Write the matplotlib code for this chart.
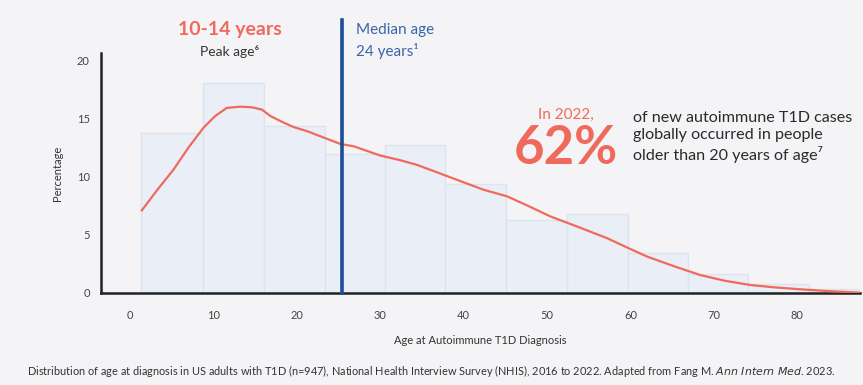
import numpy as np
import matplotlib.pyplot as plt

# histogram bins (age at diagnosis) and percentages
bin_edges = [1.3, 8.75, 16.1, 23.4, 30.6, 37.8, 45.1, 52.4, 59.7, 66.9, 74.1, 81.4, 88.7]
bin_pct = [13.7, 18.0, 14.3, 11.9, 12.7, 9.4, 6.3, 6.8, 3.4, 1.6, 0.75, 0.3]

# smoothed density curve
curve_age = [1.4, 3.3, 5.2, 7.0, 8.8, 10.2, 11.6, 13.2, 14.6, 15.8, 16.8, 18.2, 19.6, 21.2,
             23.2, 25.2, 26.8, 28.4, 30.0, 32.4, 34.4, 37.4, 40.0, 42.4, 45.2, 47.8, 50.4,
             53.8, 57.2, 59.6, 62.0, 65.2, 68.3, 71.3, 74.3, 77.3, 80.3, 84.0, 87.5]
curve_pct = [7.1, 8.9, 10.6, 12.5, 14.2, 15.2, 15.9, 16.0, 15.95, 15.75, 15.2, 14.7, 14.25, 13.9,
             13.35, 12.8, 12.6, 12.2, 11.8, 11.4, 11.0, 10.2, 9.5, 8.86, 8.3, 7.45, 6.57,
             5.65, 4.7, 3.9, 3.12, 2.3, 1.55, 1.05, 0.69, 0.48, 0.32, 0.15, 0.03]

median_age = 25.4
xticks = [0, 10, 20, 30, 40, 50, 60, 70, 80]
yticks = [0, 5, 10, 15, 20]

red = '#ef6a5c'
blue_line = '#1d4c9a'
blue_text = '#3b64aa'
bg = '#f4f4f6'

plt.rcParams['font.family'] = ['Lato', 'DejaVu Sans']

fig = plt.figure(figsize=(8.63, 3.85), dpi=100, facecolor=bg)
ax = fig.add_axes([0.117, 0.239, 0.8795, 0.623])
ax.set_facecolor(bg)

widths = np.diff(bin_edges)
ax.bar(bin_edges[:-1], bin_pct, width=widths, align='edge',
       color='#eaeef6', edgecolor='#dde4f0', linewidth=1.0, zorder=1)

ax.plot(curve_age, curve_pct, color=red, linewidth=1.6, zorder=3)

ax.axvline(median_age, ymin=0, ymax=1.14, color=blue_line, linewidth=2.6,
           clip_on=False, zorder=4)

ax.set_xlim(-3.5, 87.5)
ax.set_ylim(0, 20.6)
ax.set_xticks(xticks)
ax.set_yticks(yticks)
ax.tick_params(length=0, labelsize=8, colors='#444444', pad=12)
ax.tick_params(axis='y', pad=8)
for s in ['top', 'right']:
    ax.spines[s].set_visible(False)
for s in ['left', 'bottom']:
    ax.spines[s].set_color('#222222')
    ax.spines[s].set_linewidth(1.8)

ax.set_xlabel('Age at Autoimmune T1D Diagnosis', fontsize=8, color='#333333', labelpad=10)
ax.set_ylabel('Percentage', fontsize=8, color='#333333', labelpad=10)

# annotations
fig.text(230 / 863, 1 - 30 / 385, '10-14 years', color=red, fontsize=14,
         fontweight='bold', ha='center', va='center')
fig.text(230 / 863, 1 - 51 / 385, 'Peak age\u2076', color='#333333', fontsize=10,
         ha='center', va='center')
fig.text(356 / 863, 1 - 30 / 385, 'Median age', color=blue_text, fontsize=11,
         ha='left', va='center')
fig.text(356 / 863, 1 - 51 / 385, '24 years\u00b9', color=blue_text, fontsize=11,
         ha='left', va='center')

fig.text(566 / 863, 1 - 115 / 385, 'In 2022,', color=red, fontsize=11,
         ha='center', va='center')
fig.text(566 / 863, 1 - 149 / 385, '62%', color=red, fontsize=38,
         fontweight='bold', ha='center', va='center')
fig.text(633 / 863, 1 - 137 / 385,
         'of new autoimmune T1D cases\nglobally occurred in people\nolder than 20 years of age\u2077',
         color='#2a2a2a', fontsize=11.6, ha='left', va='center', linespacing=1.3)

fig.text(431 / 863, 1 - 371 / 385,
         'Distribution of age at diagnosis in US adults with T1D (n=947), National Health Interview '
         'Survey (NHIS), 2016 to 2022. Adapted from Fang M. $\\it{Ann\\ Intern\\ Med}$. 2023.',
         color='#333333', fontsize=7.9, ha='center', va='center')

fig.savefig('out.png', dpi=100, facecolor=bg)
